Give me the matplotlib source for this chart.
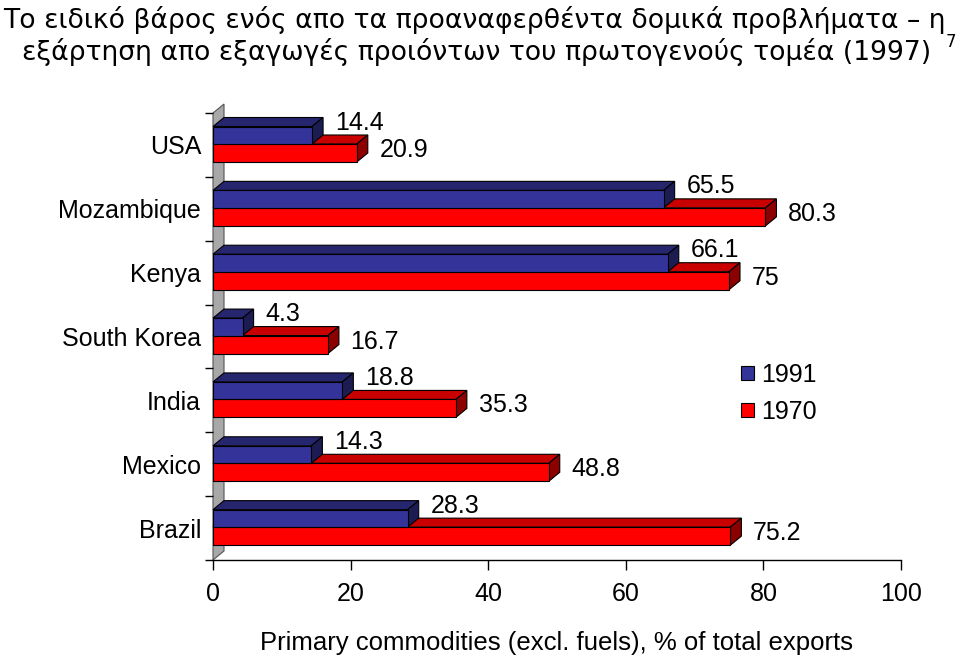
import matplotlib
matplotlib.use("Agg")
import matplotlib.pyplot as plt
from matplotlib.patches import Polygon, Patch
from matplotlib import font_manager

# ---- data ----
categories = ["USA", "Mozambique", "Kenya", "South Korea", "India", "Mexico", "Brazil"]
values_1991 = [14.4, 65.5, 66.1, 4.3, 18.8, 14.3, 28.3]
values_1970 = [20.9, 80.3, 75.0, 16.7, 35.3, 48.8, 75.2]
series_names = ["1991", "1970"]
x_ticks = [0, 20, 40, 60, 80, 100]
title_line1 = "Το ειδικό βάρος ενός απο τα προαναφερθέντα δομικά προβλήματα – η"
title_line2 = "εξάρτηση απο εξαγωγές προιόντων του πρωτογενούς τομέα (1997)"
footnote = "7"
x_label = "Primary commodities (excl. fuels), % of total exports"

# ---- fonts ----
names = {f.name for f in font_manager.fontManager.ttflist}
if "Liberation Sans Narrow" in names:
    fam = ["Liberation Sans Narrow", "DejaVu Sans"]
    fs = 21.5
else:
    fam = ["Liberation Sans", "DejaVu Sans"]
    fs = 18
plt.rcParams['font.family'] = fam

W, H = 960, 660
fig = plt.figure(figsize=(W / 100, H / 100), dpi=100)
ax_left, ax_right, ax_top, ax_bot = 213, 901, 113, 560
ax = fig.add_axes([ax_left / W, (H - ax_bot) / H, (ax_right - ax_left) / W, (ax_bot - ax_top) / H])
ax.set_xlim(0, 100)
n = len(categories)
ax.set_ylim(n, 0)

px_x = (ax_right - ax_left) / 100.0
px_y = (ax_bot - ax_top) / n
DX = 11 / px_x
DY = 9 / px_y

blue = dict(front="#333399", top="#26266f", side="#1c1c52")
red = dict(front="#ff0000", top="#c80000", side="#8c0000")
edge = "#000000"
lw = 0.8

# wall on the left
wall = Polygon([(0, n), (DX, n - DY), (DX, -DY), (0, 0)], closed=True,
               facecolor="#a8a8a8", edgecolor="#555555", lw=lw, clip_on=False, zorder=1)
ax.add_patch(wall)

b_top = 13.5 / px_y
b_mid = 31.0 / px_y
b_bot = 49.0 / px_y


def bar3d(v, y0, y1, col, z):
    front = Polygon([(0, y0), (v, y0), (v, y1), (0, y1)], closed=True,
                    facecolor=col["front"], edgecolor=edge, lw=lw, zorder=z, clip_on=False)
    top = Polygon([(0, y0), (v, y0), (v + DX, y0 - DY), (DX, y0 - DY)], closed=True,
                  facecolor=col["top"], edgecolor=edge, lw=lw, zorder=z, clip_on=False)
    side = Polygon([(v, y0), (v, y1), (v + DX, y1 - DY), (v + DX, y0 - DY)], closed=True,
                   facecolor=col["side"], edgecolor=edge, lw=lw, zorder=z, clip_on=False)
    for p in (top, side, front):
        ax.add_patch(p)


lab_off = 3.3
for i in range(n - 1, -1, -1):
    vb, vr = values_1991[i], values_1970[i]
    z = 2 + (n - i) * 2
    bar3d(vr, i + b_mid, i + b_bot, red, z)
    bar3d(vb, i + b_top, i + b_mid, blue, z + 1)
    ax.text(vb + lab_off, i + 9.5 / px_y, f"{vb:g}", fontsize=fs, va="center", ha="left", zorder=30)
    ax.text(vr + lab_off, i + 37 / px_y, f"{vr:g}", fontsize=fs, va="center", ha="left", zorder=30)

# axes styling
for s in ("top", "right", "left"):
    ax.spines[s].set_visible(False)
ax.spines["bottom"].set_linewidth(1.0)
ax.set_xticks(x_ticks)
ax.set_xticklabels([str(t) for t in x_ticks], fontsize=fs)
ax.tick_params(axis="x", length=7, width=1.0, pad=9)
ax.set_yticks(range(n + 1))
ax.set_yticklabels([])
ax.tick_params(axis="y", which="major", length=6, width=1.0)
ax.set_yticks([i + 0.5 for i in range(n)], minor=True)
ax.set_yticklabels(categories, minor=True, fontsize=fs)
ax.tick_params(axis="y", which="minor", length=0, pad=8.5)
ax.set_xlabel(x_label, fontsize=fs + 0.5)
ax.xaxis.label.set_va("center")
ax.xaxis.set_label_coords(0.5, (ax_bot - 643) / (ax_bot - ax_top))
ax.patch.set_visible(False)

# legend
handles = [Patch(facecolor=blue["front"], edgecolor=edge, lw=lw, label=series_names[0]),
           Patch(facecolor=red["front"], edgecolor=edge, lw=lw, label=series_names[1])]
fig.legend(handles=handles, loc="upper left", bbox_to_anchor=(741 / W, 1 - 363 / H),
           frameon=False, fontsize=fs, handlelength=0.5, handleheight=0.5,
           handletextpad=0.3, labelspacing=0.52, borderaxespad=0, borderpad=0)

# title (Tahoma-like look -> DejaVu Sans)
tfam = ["DejaVu Sans"]
t1 = fig.text(3 / W, 1 - 20 / H, title_line1, fontsize=19.2, family=tfam, va="center", ha="left")
t2 = fig.text(22 / W, 1 - 52 / H, title_line2, fontsize=19.2, family=tfam, va="center", ha="left")
fig.text(946 / W, 1 - 42 / H, footnote, fontsize=12, family=tfam, va="center", ha="left")

fig.savefig("out.png", dpi=100)
